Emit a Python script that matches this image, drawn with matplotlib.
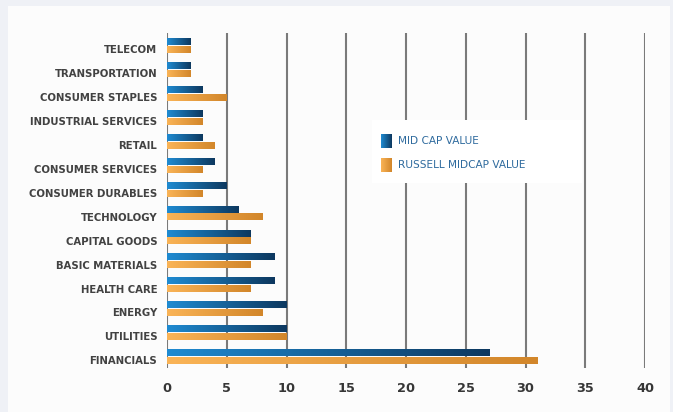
import numpy as np
import matplotlib
matplotlib.use("Agg")
import matplotlib.pyplot as plt
from matplotlib.colors import LinearSegmentedColormap
from matplotlib.patches import Rectangle

categories = ["TELECOM", "TRANSPORTATION", "CONSUMER STAPLES", "INDUSTRIAL SERVICES",
              "RETAIL", "CONSUMER SERVICES", "CONSUMER DURABLES", "TECHNOLOGY",
              "CAPITAL GOODS", "BASIC MATERIALS", "HEALTH CARE", "ENERGY",
              "UTILITIES", "FINANCIALS"]
mid_cap_value = [2, 2, 3, 3, 3, 4, 5, 6, 7, 9, 9, 10, 10, 27]
russell_midcap_value = [2, 2, 5, 3, 4, 3, 3, 8, 7, 7, 7, 8, 10, 31]
series_names = ["MID CAP VALUE", "RUSSELL MIDCAP VALUE"]
xticks = [0, 5, 10, 15, 20, 25, 30, 35, 40]

plt.rcParams['font.family'] = ["DejaVu Sans"]

blue_cmap = LinearSegmentedColormap.from_list("b", ["#1f8bd2", "#0d385f"])
orange_cmap = LinearSegmentedColormap.from_list("o", ["#fab457", "#d2862a"])
grad = np.linspace(0, 1, 256).reshape(1, -1)

W, H = 673, 412
fig = plt.figure(figsize=(W / 100, H / 100), dpi=100)
fig.patch.set_facecolor("#eff1f6")
# white card
bg = fig.add_axes([8 / W, 0, (670 - 8) / W, (H - 6) / H], zorder=-5)
bg.set_facecolor("#fcfcfc")
bg.set_xticks([])
bg.set_yticks([])
for s in bg.spines.values():
    s.set_visible(False)

ax = fig.add_axes([167 / W, 1 - 368 / H, (645 - 167) / W, (368 - 33) / H], zorder=1)
ax.set_facecolor("none")
for s in ax.spines.values():
    s.set_visible(False)

bh = 0.28
for i, (b, o) in enumerate(zip(mid_cap_value, russell_midcap_value)):
    ax.imshow(grad, cmap=blue_cmap, aspect="auto", interpolation="bicubic",
              extent=(0, b, i - 0.05, i - 0.05 - bh), zorder=3)
    ax.imshow(grad, cmap=orange_cmap, aspect="auto", interpolation="bicubic",
              extent=(0, o, i + bh, i), zorder=3)

ax.set_xticks(xticks)
ax.set_xticklabels([str(t) for t in xticks], fontsize=9.3, color="#363636",
                   fontweight="bold")
ax.set_yticks([i + bh / 2 - 0.02 for i in range(len(categories))])
ax.set_yticklabels(categories, fontsize=7.3, color="#424242", fontweight="bold")
ax.tick_params(axis="both", length=0)
ax.tick_params(axis="y", pad=7)
ax.tick_params(axis="x", pad=10)
ax.grid(axis="x", color="#7a7a7a", linewidth=1.5, zorder=1)
ax.grid(axis="y", visible=False)
ax.set_axisbelow(True)

# legend box
off = 0.55
x0, x1 = (372 - 167) / 11.95, (582 - 167) / 11.95
y_top = (120 - 33) / 23.93 - off
y_bot = (183 - 33) / 23.93 - off
ax.add_patch(Rectangle((x0, y_top), x1 - x0, y_bot - y_top, facecolor="white",
                       edgecolor="none", zorder=4))
for k, (name, cmap) in enumerate(zip(series_names, [blue_cmap, orange_cmap])):
    cy = (141 + 24 * k - 33) / 23.93 - off
    sx0 = (381 - 167) / 11.95
    sx1 = (391 - 167) / 11.95
    ax.imshow(grad, cmap=cmap, aspect="auto", extent=(sx0, sx1, cy + 0.29, cy - 0.29),
              zorder=5)
    ax.text((398 - 167) / 11.95, cy, name, fontsize=7.6, color="#2f6b9e",
            va="center", ha="left", zorder=6)

ax.set_xlim(0, 40)
ax.set_ylim(14 - off - 0.01, -off)

fig.savefig("out.png", dpi=100, facecolor=fig.get_facecolor())
